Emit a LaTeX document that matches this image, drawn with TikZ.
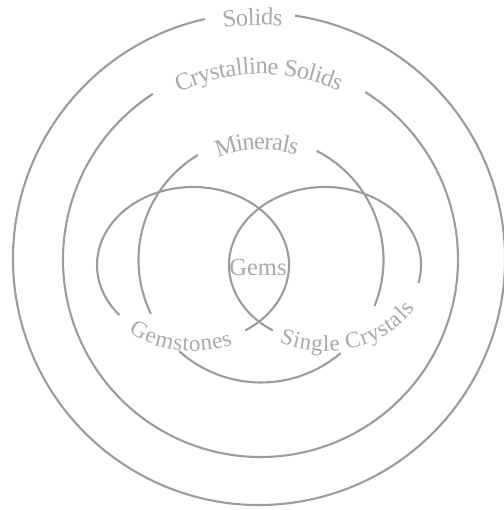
\documentclass[tikz,border=0pt]{standalone}
\usepackage{fontspec}
\setmainfont{Liberation Serif}
\usetikzlibrary{calc,decorations.text}
\definecolor{rim}{HTML}{9C9C9C}
\definecolor{inktext}{HTML}{A9A9A9}
\newcommand{\lblfont}{\fontsize{24.5}{24.5}\selectfont\color{inktext}}
\newcommand{\lowfont}{\fontsize{23}{23}\selectfont\color{inktext}}
\tikzset{
  ring/.style={draw=rim,line width=2.1pt},
  curvedlabel/.style={decorate,decoration={text along path,text align=center,raise=-12pt,text={|\lblfont|#1}}},
  lowlabel/.style={decorate,decoration={text along path,text align=center,raise=-8pt,text={|\lowfont|#1}}},
  flatlabel/.style={font=\lblfont,text=inktext,inner sep=0pt}
}

\begin{document}
\begin{tikzpicture}[x=1pt,y=1pt]
  \useasboundingbox (0,0) rectangle (503,510);
  \coordinate (solidsc) at (259,251);
  \coordinate (crystc) at (260.5,250.5);
  \coordinate (minc) at (261,250);
  \coordinate (gemc) at (193,245);
  \coordinate (singc) at (325,245);

  % solids
  \draw[ring] ($(solidsc)+(102.7:246pt)$) arc[start angle=102.7,end angle=441.6,radius=246pt];
  \path[curvedlabel=Solids] ($(solidsc)+(106:246pt)$) arc[start angle=106,end angle=77,radius=246pt];

  % crystalline solids
  \draw[ring] ($(crystc)+(123:197.5pt)$) arc[start angle=123,end angle=418,radius=197.5pt];
  \path[curvedlabel={Crystalline Solids}] ($(crystc)+(128:197.5pt)$) arc[start angle=128,end angle=53,radius=197.5pt];

  % minerals
  \draw[ring] ($(minc)+(-22:122.5pt)$) arc[start angle=-22,end angle=63,radius=122.5pt];
  \draw[ring] ($(minc)+(121:122.5pt)$) arc[start angle=121,end angle=206,radius=122.5pt];
  \draw[ring] ($(minc)+(228:122.5pt)$) arc[start angle=228,end angle=310.5,radius=122.5pt];
  \path[curvedlabel=Minerals] ($(minc)+(123:122.5pt)$) arc[start angle=123,end angle=61,radius=122.5pt];

  % gemstones and single crystals
  \draw[ring] ($(gemc)+(-57:96pt and 78pt)$) arc[start angle=-57,end angle=220,x radius=96pt,y radius=78pt];
  \path[lowlabel=Gemstones] ($(gemc)+(216:96pt and 78pt)$) arc[start angle=216,end angle=307,x radius=96pt,y radius=78pt];
  \draw[ring] ($(singc)+(-13.5:96pt and 78pt)$) arc[start angle=-13.5,end angle=237,x radius=96pt,y radius=78pt];
  \path[lowlabel={Single Crystals}] ($(singc)+(232:96pt and 78pt)$) arc[start angle=232,end angle=343,x radius=96pt,y radius=78pt];

  \node[flatlabel] (gems) at (258,242) {Gems};
\end{tikzpicture}
\end{document}
